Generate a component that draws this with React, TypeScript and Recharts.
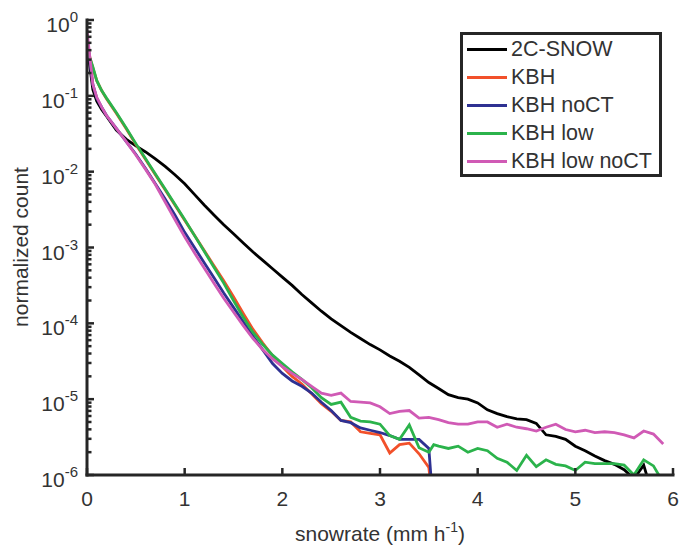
import { LineChart, Line, XAxis, YAxis, Legend } from 'recharts';

// snowrate bins (mm h-1)
const X = [
  0, 0.03, 0.06, 0.1, 0.15, 0.2, 0.3, 0.4, 0.5, 0.6, 0.7, 0.8, 0.9, 1.0,
  1.1, 1.2, 1.3, 1.4, 1.5, 1.6, 1.7, 1.8, 1.9, 2.0, 2.1, 2.2, 2.3, 2.4, 2.5,
  2.6, 2.7, 2.8, 2.9, 3.0, 3.1, 3.2, 3.3, 3.4, 3.5, 3.55, 3.6, 3.7, 3.8, 3.9,
  4.0, 4.1, 4.2, 4.3, 4.4, 4.5, 4.6, 4.7, 4.8, 4.9, 5.0, 5.1, 5.2, 5.3, 5.4,
  5.5, 5.6, 5.7, 5.8, 5.9, 6.0,
];

// log10(normalized count) per series
const SNOW_2C = [
  -0.35, -0.62, -0.92, -1.07, -1.18, -1.27, -1.45, -1.57, -1.66, -1.74, -1.83, -1.93, -2.04, -2.16,
  -2.3, -2.44, -2.57, -2.7, -2.82, -2.94, -3.06, -3.17, -3.28, -3.39, -3.5, -3.62, -3.73, -3.84, -3.94,
  -4.03, -4.12, -4.2, -4.28, -4.35, -4.43, -4.5, -4.58, -4.68, -4.78, null, -4.86, -4.94, -4.98, -5.0,
  -5.05, -5.14, -5.19, -5.23, -5.26, -5.27, -5.32, -5.47, -5.49, -5.53, -5.62, -5.68, -5.75, -5.81, -5.86,
  -5.93, -6.05, -5.87, -6.3, null, null,
];
const KBH = [
  -0.32, -0.5, -0.63, -0.8, -0.93, -1.04, -1.23, -1.43, -1.64, -1.84, -2.04, -2.24, -2.44, -2.64,
  -2.84, -3.04, -3.24, -3.44, -3.65, -3.87, -4.08, -4.26, -4.43, -4.57, -4.7, -4.8, -4.93, -5.06, -5.16,
  -5.28, -5.3, -5.43, -5.45, -5.47, -5.71, -5.6, -5.58, -5.72, -5.9, -6.5, null, null, null, null,
  null, null, null, null, null, null, null, null, null, null, null, null, null, null, null,
  null, null, null, null, null, null,
];
const KBH_NOCT = [
  -0.2, -0.55, -0.85, -1.03, -1.15, -1.26, -1.43, -1.6, -1.77, -1.96, -2.16, -2.36, -2.57, -2.8,
  -3.0, -3.2, -3.4, -3.6, -3.79, -3.98, -4.17, -4.35, -4.53, -4.66, -4.76, -4.83, -4.92, -5.04, -5.15,
  -5.28, -5.31, -5.38, -5.41, -5.44, -5.48, -5.53, -5.53, -5.53, -5.65, -6.5, null, null, null, null,
  null, null, null, null, null, null, null, null, null, null, null, null, null, null, null,
  null, null, null, null, null, null,
];
const KBH_LOW = [
  -0.32, -0.5, -0.62, -0.8, -0.93, -1.03, -1.22, -1.42, -1.63, -1.83, -2.03, -2.23, -2.43, -2.63,
  -2.84, -3.05, -3.26, -3.47, -3.7, -3.92, -4.12, -4.28, -4.42, -4.53, -4.64, -4.74, -4.85, -4.98, -5.07,
  -5.04, -5.24, -5.29, -5.3, -5.33, -5.48, -5.53, -5.34, -5.64, -5.7, -5.6, -5.62, -5.65, -5.62, -5.7,
  -5.65, -5.68, -5.78, -5.83, -5.94, -5.74, -5.89, -5.8, -5.86, -5.88, -5.94, -5.83, -5.85, -5.85, -5.85,
  -5.87, -6.0, -5.8, -5.88, -6.1, null,
];
const KBH_LOW_NOCT = [
  -0.13, -0.5, -0.85, -1.02, -1.15, -1.26, -1.43, -1.6, -1.78, -1.97, -2.17, -2.4, -2.63, -2.86,
  -3.07, -3.27, -3.47, -3.67, -3.85, -4.03, -4.2, -4.35, -4.47, -4.57, -4.66, -4.74, -4.83, -4.92, -4.95,
  -4.92, -5.03, -5.04, -5.05, -5.1, -5.19, -5.16, -5.15, -5.25, -5.24, null, -5.27, -5.31, -5.33, -5.33,
  -5.3, -5.3, -5.37, -5.33, -5.37, -5.39, -5.42, -5.37, -5.33, -5.4, -5.43, -5.41, -5.44, -5.43, -5.44,
  -5.47, -5.51, -5.42, -5.46, -5.59, null,
];

const X_TICKS = [0, 1, 2, 3, 4, 5, 6];
const Y_MAJOR = [1e-6, 1e-5, 1e-4, 1e-3, 1e-2, 1e-1, 1];
const Y_MINOR = Y_MAJOR.slice(0, -1).flatMap((d) => [2, 3, 4, 5, 6, 7, 8, 9].map((m) => m * d));
const Y_TICKS = [...Y_MAJOR, ...Y_MINOR];

const SERIES = [
  { key: 'snow', name: '2C-SNOW', color: '#000000', values: SNOW_2C },
  { key: 'kbh', name: 'KBH', color: '#f2502a', values: KBH },
  { key: 'kbhNoct', name: 'KBH noCT', color: '#2e3192', values: KBH_NOCT },
  { key: 'kbhLow', name: 'KBH low', color: '#2bb34b', values: KBH_LOW },
  { key: 'kbhLowNoct', name: 'KBH low noCT', color: '#d05ab5', values: KBH_LOW_NOCT },
];

const rows = X.map((x, i) => {
  const row: Record<string, number | null> = { x };
  for (const s of SERIES) {
    const e = s.values[i];
    row[s.key] = e == null ? null : Math.pow(10, e);
  }
  return row;
});

const FONT = '"Liberation Sans", Arial, Helvetica, sans-serif';
const AXIS = '#262626';
const TEXT = '#333';

const isMajor = (v: number) => Math.abs(Math.log10(v) - Math.round(Math.log10(v))) < 1e-6;

const LeftTick = (props: any) => {
  const { x, y, payload } = props;
  const v = payload.value;
  const major = isMajor(v);
  const ax = x + 9;
  return (
    <g>
      <line x1={ax} x2={ax + (major ? 7 : 4.5)} y1={y} y2={y} stroke={AXIS} strokeWidth={2.5} />
      {major && (
        <text x={x} y={y + 12} textAnchor="end" fontSize={21} fill={TEXT} fontFamily={FONT}>
          10<tspan dy={-10} fontSize={15}>{Math.round(Math.log10(v))}</tspan>
        </text>
      )}
    </g>
  );
};

const RightTick = (props: any) => {
  const { x, y, payload } = props;
  const major = isMajor(payload.value);
  return <line x1={x} x2={x - (major ? 7 : 4.5)} y1={y} y2={y} stroke={AXIS} strokeWidth={2.5} />;
};

const BottomTick = (props: any) => {
  const { x, y, payload } = props;
  return (
    <g>
      <line x1={x} x2={x} y1={y} y2={y - 7} stroke={AXIS} strokeWidth={2.5} />
      <text x={x} y={y + 31} textAnchor="middle" fontSize={21} fill={TEXT} fontFamily={FONT}>
        {payload.value}
      </text>
    </g>
  );
};

const TopTick = (props: any) => {
  const { x, y } = props;
  return <line x1={x} x2={x} y1={y} y2={y + 7} stroke={AXIS} strokeWidth={2.5} />;
};

const renderLegend = () => (
  <div
    style={{
      boxSizing: 'border-box',
      width: 202,
      height: 145,
      border: `3px solid ${AXIS}`,
      background: '#fff',
      fontFamily: FONT,
      fontSize: 21.5,
      color: TEXT,
    }}
  >
    {SERIES.map((s) => (
      <div key={s.key} style={{ display: 'flex', alignItems: 'center', height: 28 }}>
        <span style={{ display: 'inline-block', width: 40, height: 3, marginLeft: 4, marginRight: 4, background: s.color }} />
        <span style={{ whiteSpace: 'nowrap' }}>{s.name}</span>
      </div>
    ))}
  </div>
);

export default function App() {
  const axisLine = { stroke: AXIS, strokeWidth: 3, strokeLinecap: 'square' as const };
  return (
    <div style={{ position: 'absolute', left: 0, top: 0, width: 681, height: 552, background: '#fff' }}>
      <LineChart width={681} height={552} data={rows} margin={{ top: 20, right: 8, bottom: 0, left: 0 }}>
        <XAxis
          dataKey="x"
          type="number"
          domain={[0, 6]}
          ticks={X_TICKS}
          allowDataOverflow
          height={77}
          axisLine={axisLine}
          tickLine={false}
          tickSize={0}
          tickMargin={0}
          tick={<BottomTick />}
          interval={0}
        />
        <XAxis
          xAxisId="top"
          orientation="top"
          dataKey="x"
          type="number"
          domain={[0, 6]}
          ticks={X_TICKS}
          allowDataOverflow
          height={0}
          axisLine={axisLine}
          tickLine={false}
          tickSize={0}
          tickMargin={0}
          tick={<TopTick />}
          interval={0}
        />
        <YAxis
          type="number"
          scale="log"
          domain={[1e-6, 1]}
          ticks={Y_TICKS}
          allowDataOverflow
          width={87}
          axisLine={axisLine}
          tickLine={false}
          tickSize={0}
          tickMargin={9}
          tick={<LeftTick />}
          interval={0}
        />
        <YAxis
          yAxisId="right"
          orientation="right"
          type="number"
          scale="log"
          domain={[1e-6, 1]}
          ticks={Y_TICKS}
          allowDataOverflow
          width={0}
          axisLine={axisLine}
          tickLine={false}
          tickSize={0}
          tickMargin={0}
          tick={<RightTick />}
          interval={0}
        />
        {SERIES.map((s) => (
          <Line
            key={s.key}
            dataKey={s.key}
            name={s.name}
            type="linear"
            stroke={s.color}
            strokeWidth={2.8}
            dot={false}
            connectNulls
            isAnimationActive={false}
          />
        ))}
        <Legend
          layout="horizontal"
          verticalAlign="middle"
          align="center"
          content={renderLegend}
          wrapperStyle={{ position: 'absolute', left: 460, top: 32, width: 202, height: 145 }}
        />
      </LineChart>
      <div
        style={{
          position: 'absolute',
          left: 180,
          top: 524,
          width: 400,
          textAlign: 'center',
          fontFamily: FONT,
          fontSize: 21,
          lineHeight: '20px',
          color: TEXT,
        }}
      >
        snowrate (mm h<span style={{ fontSize: 14, position: 'relative', top: -9 }}>-1</span>)
      </div>
      <div
        style={{
          position: 'absolute',
          left: 21 - 100,
          top: 247 - 10,
          width: 200,
          height: 20,
          lineHeight: '20px',
          textAlign: 'center',
          transform: 'rotate(-90deg)',
          fontFamily: FONT,
          fontSize: 21,
          color: TEXT,
        }}
      >
        normalized count
      </div>
    </div>
  );
}
